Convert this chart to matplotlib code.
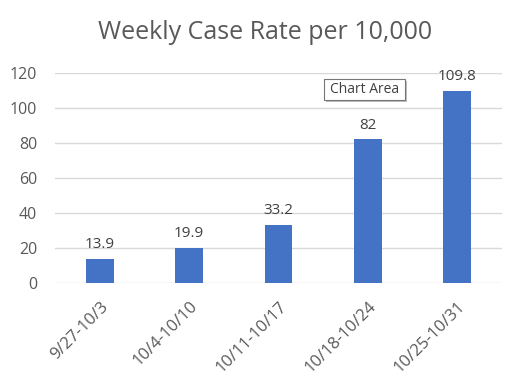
import matplotlib
matplotlib.use('Agg')
import matplotlib.pyplot as plt
from matplotlib.patches import Rectangle

weeks = ['9/27-10/3', '10/4-10/10', '10/11-10/17', '10/18-10/24', '10/25-10/31']
rates = [13.9, 19.9, 33.2, 82, 109.8]
rate_labels = ['13.9', '19.9', '33.2', '82', '109.8']

plt.rcParams['font.family'] = ['Open Sans', 'DejaVu Sans']

fig = plt.figure(figsize=(5.31, 3.82), dpi=100)
ax = fig.add_axes([0.104, 0.259, 0.841, 0.55])

x = range(len(weeks))
bars = ax.bar(x, rates, width=0.31, color='#4472C4', zorder=3)
for b, lab in zip(bars, rate_labels):
    ax.annotate(lab, (b.get_x() + b.get_width() / 2, b.get_height()),
                xytext=(0, 5), textcoords='offset points', ha='center', va='bottom',
                fontsize=11, color='#404040')

ax.set_ylim(0, 120)
ax.set_xlim(-0.5, len(weeks) - 0.5)
ax.set_yticks(range(0, 121, 20))
ax.set_xticks(list(x))
ax.set_xticklabels(weeks, rotation=45, ha='right', rotation_mode='anchor')
ax.tick_params(axis='both', length=0, labelcolor='#595959')
ax.tick_params(axis='y', pad=13, labelsize=11.5)
ax.tick_params(axis='x', pad=11, labelsize=12)
ax.grid(axis='y', color='#D9D9D9', linewidth=1, zorder=0)
for s in ax.spines.values():
    s.set_visible(False)

fig.text(0.5, 0.915, 'Weekly Case Rate per 10,000', ha='center', va='center',
         fontsize=18, color='#595959')

# tooltip left over from the screenshot, with its small shadow
fig.patches.append(Rectangle((0.614, 0.733), 0.153, 0.055, transform=fig.transFigure,
                             facecolor='#BDBDBD', edgecolor='none', zorder=5))
fig.patches.append(Rectangle((0.610, 0.738), 0.153, 0.055, transform=fig.transFigure,
                             facecolor='white', edgecolor='#767676', linewidth=0.8, zorder=6))
fig.text(0.6865, 0.7655, 'Chart Area', ha='center', va='center', fontsize=10,
         color='#404040', zorder=7)

fig.savefig('out.png', dpi=100)
